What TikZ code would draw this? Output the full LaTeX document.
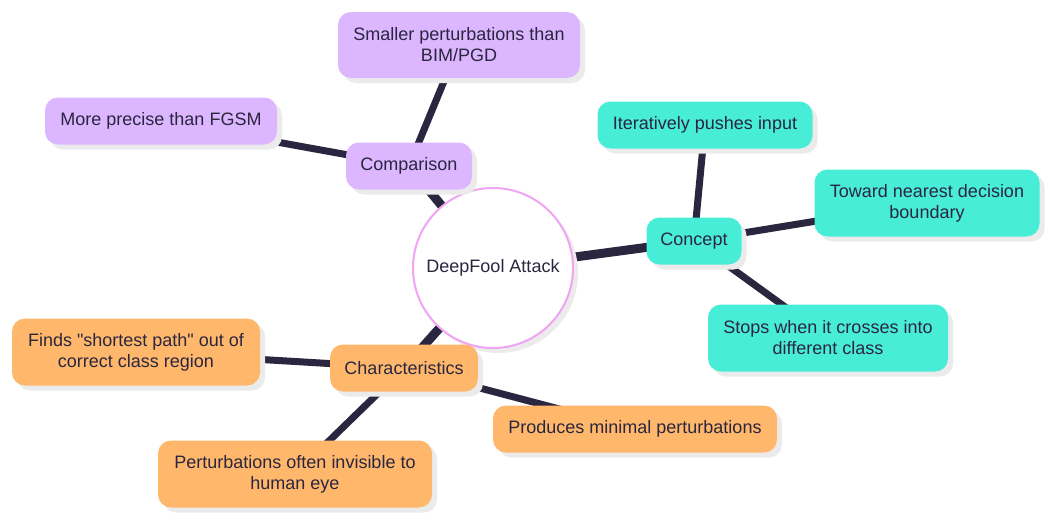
\documentclass[tikz,border=0pt]{standalone}
\usepackage{fontspec}
\setmainfont[Ligatures=TeXOff]{Liberation Sans}
\usetikzlibrary{shadows,backgrounds}
\definecolor{inkdark}{HTML}{2A263F}
\definecolor{lilac}{HTML}{DCB6FF}
\definecolor{aqua}{HTML}{48EDD8}
\definecolor{apricot}{HTML}{FFB86B}
\definecolor{rosy}{HTML}{F0A4F4}
\tikzset{
  idea/.style={rounded corners=13pt, text=inkdark, minimum height=47pt,
    inner xsep=12pt, align=center, font=\fontsize{18}{21}\selectfont,
    drop shadow={shadow xshift=5pt, shadow yshift=-5pt, fill=black!8, opacity=1}},
  cmpidea/.style={idea, fill=lilac},
  conidea/.style={idea, fill=aqua},
  chaidea/.style={idea, fill=apricot},
  hubnode/.style={circle, minimum size=160pt, draw=rosy, line width=2pt, fill=white,
    text=inkdark, font=\fontsize{18}{21}\selectfont,
    drop shadow={shadow xshift=5pt, shadow yshift=-5pt, fill=black!8, opacity=1}},
  branch/.style={draw=inkdark, line width=9pt},
  twig/.style={draw=inkdark, line width=7pt}
}
\begin{document}
\begin{tikzpicture}[x=1pt,y=-1pt]
\useasboundingbox (0,0) rectangle (1052,522);

\node[hubnode] (hub) at (493,268) {DeepFool Attack};

\node[cmpidea, minimum width=126pt] (cmp) at (409,166) {Comparison};
\node[cmpidea, minimum width=242pt, minimum height=66pt] (cmpbim) at (459,45) {Smaller perturbations than\\BIM/PGD};
\node[cmpidea, minimum width=232pt] (cmpfgsm) at (161,121) {More precise than FGSM};

\node[conidea, minimum width=95pt] (con) at (694,241) {Concept};
\node[conidea, minimum width=215pt] (conpush) at (705,125) {Iteratively pushes input};
\node[conidea, minimum width=225pt, minimum height=67pt] (conbound) at (927,203) {Toward nearest decision\\boundary};
\node[conidea, minimum width=240pt, minimum height=67pt] (constop) at (828,338) {Stops when it crosses into\\different class};

\node[chaidea, minimum width=148pt] (cha) at (404,368) {Characteristics};
\node[chaidea, minimum width=248pt, minimum height=67pt] (chapath) at (136,352) {Finds "shortest path" out of\\correct class region};
\node[chaidea, minimum width=274pt, minimum height=67pt] (chaeye) at (295,474) {Perturbations often invisible to\\human eye};
\node[chaidea, minimum width=284pt] (chamin) at (635,429) {Produces minimal perturbations};

\begin{pgfonlayer}{background}
\draw[branch] (hub.center) -- (cmp.center);
\draw[branch] (hub.center) -- (con.center);
\draw[branch] (hub.center) -- (cha.center);
\draw[twig] (cmp.center) -- (cmpbim.center);
\draw[twig] (cmp.center) -- (cmpfgsm.center);
\draw[twig] (con.center) -- (conpush.center);
\draw[twig] (con.center) -- (conbound.center);
\draw[twig] (con.center) -- (constop.center);
\draw[twig] (cha.center) -- (chapath.center);
\draw[twig] (cha.center) -- (chaeye.center);
\draw[twig] (cha.center) -- (chamin.center);
\end{pgfonlayer}

\end{tikzpicture}
\end{document}
